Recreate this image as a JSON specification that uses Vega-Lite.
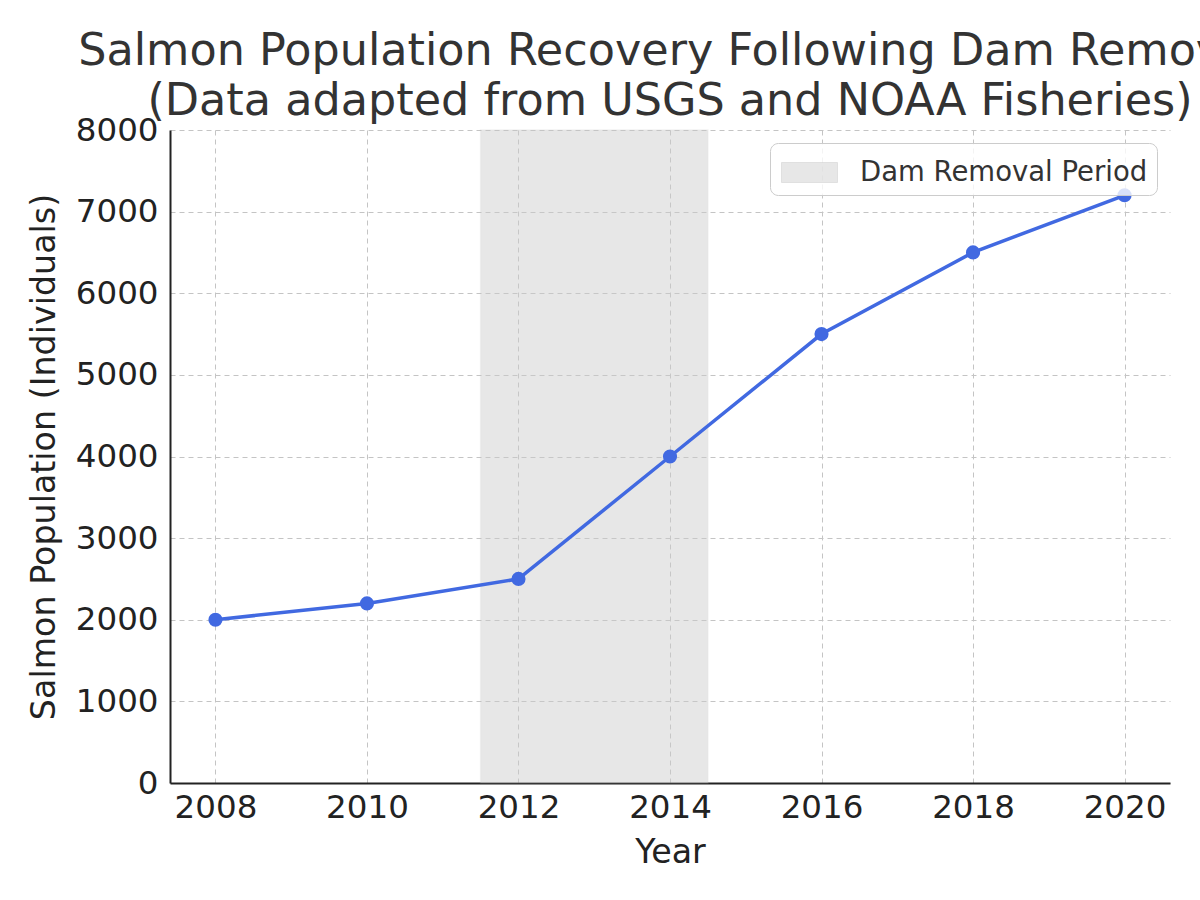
{
  "$schema": "https://vega.github.io/schema/vega-lite/v6.json",
  "width": 1000,
  "height": 653,
  "autosize": {"type": "none"},
  "padding": {"left": 170, "top": 130, "right": 30, "bottom": 117},
  "background": "white",
  "title": {
    "text": ["Salmon Population Recovery Following Dam Removal", "(Data adapted from USGS and NOAA Fisheries)"],
    "anchor": "middle",
    "frame": "group",
    "font": "DejaVu Sans",
    "fontSize": 44.5,
    "fontWeight": "normal",
    "color": "#333333",
    "lineHeight": 50,
    "offset": -10,
    "limit": 3000
  },
  "config": {
    "view": {"stroke": null},
    "axis": {
      "labelFont": "DejaVu Sans",
      "titleFont": "DejaVu Sans",
      "labelFontSize": 32.5,
      "titleFontSize": 33.3,
      "labelColor": "#222222",
      "titleColor": "#222222",
      "titleFontWeight": "normal",
      "domainColor": "#222222",
      "domainWidth": 2,
      "ticks": false,
      "grid": true,
      "gridColor": "#c4c4c4",
      "gridDash": [5, 4],
      "gridWidth": 1
    }
  },
  "datasets": {
    "period": [{"start": 2011.5, "end": 2014.5, "label": "Dam Removal Period"}],
    "salmon": [
      {"year": 2008, "population": 2000},
      {"year": 2010, "population": 2200},
      {"year": 2012, "population": 2500},
      {"year": 2014, "population": 4000},
      {"year": 2016, "population": 5500},
      {"year": 2018, "population": 6500},
      {"year": 2020, "population": 7200}
    ]
  },
  "layer": [
    {
      "data": {"name": "period"},
      "mark": {"type": "rect", "opacity": 0.45, "stroke": "#bbbbbb", "strokeWidth": 1.5, "strokeOpacity": 0.4},
      "encoding": {
        "x": {
          "field": "start", "type": "quantitative",
          "scale": {"domain": [2007.4, 2020.6], "nice": false, "zero": false},
          "axis": {"title": "Year", "values": [2008, 2010, 2012, 2014, 2016, 2018, 2020], "format": "d", "labelPadding": 8, "titlePadding": 13}
        },
        "x2": {"field": "end"},
        "fill": {
          "field": "label", "type": "nominal",
          "scale": {"range": ["#cccccc"]},
          "legend": {
            "title": null,
            "orient": "top-right",
            "offset": 13,
            "symbolType": "M-1.4,-0.5H1.4V0.5H-1.4Z",
            "symbolSize": 1600,
            "symbolOpacity": 0.45,
            "symbolStrokeColor": "#bbbbbb",
            "symbolStrokeWidth": 1,
            "symbolOffset": 10,
            "labelFont": "DejaVu Sans",
            "labelFontSize": 27.5,
            "labelColor": "#333333",
            "labelOffset": 30,
            "labelLimit": 1000,
            "padding": 9,
            "fillColor": "rgba(255,255,255,0.8)",
            "strokeColor": "#cccccc",
            "cornerRadius": 8
          }
        }
      }
    },
    {
      "data": {"name": "salmon"},
      "mark": {"type": "line", "color": "#4169E1", "strokeWidth": 3.5, "point": {"filled": true, "size": 200, "color": "#4169E1", "opacity": 1}},
      "encoding": {
        "x": {"field": "year", "type": "quantitative"},
        "y": {
          "field": "population", "type": "quantitative",
          "scale": {"domain": [0, 8000], "nice": false},
          "axis": {"title": "Salmon Population (Individuals)", "values": [0, 1000, 2000, 3000, 4000, 5000, 6000, 7000, 8000], "format": "d", "labelPadding": 12, "titlePadding": 14}
        }
      }
    }
  ]
}
